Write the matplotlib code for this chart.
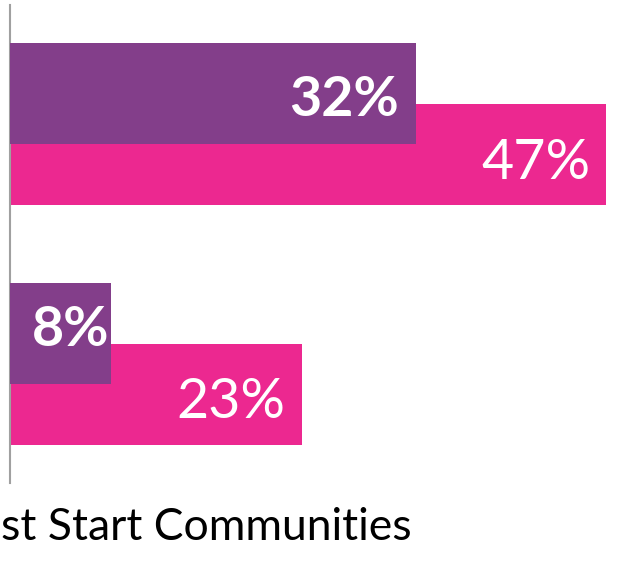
import matplotlib
matplotlib.use("Agg")
import matplotlib.pyplot as plt

# Data
purple_vals = [32, 8]
pink_vals = [47, 23]
purple_labels = ["32%", "8%"]
pink_labels = ["47%", "23%"]
category_label = "st Start Communities"  # as it shows in the cropped source

PURPLE = "#833e8a"
PINK = "#ec2890"

plt.rcParams["font.family"] = ["Lato", "DejaVu Sans"]

fig = plt.figure(figsize=(6.21, 5.61), dpi=100)
W, H = 621, 561
ax = fig.add_axes([10 / W, (H - 483) / H, (W - 10) / W, 478 / H])

bar_h = 0.42
off = 0.127
ys = range(len(purple_vals))

# pink bars first, purple drawn over them
for y, v in zip(ys, pink_vals):
    ax.barh(y + off, v, height=bar_h, color=PINK, zorder=2)
for y, v in zip(ys, purple_vals):
    ax.barh(y - off, v, height=bar_h, color=PURPLE, zorder=3)

# value labels
p_pad = [-17, -2]
p_dy = [-6, 4]
for y, v, lab, p, dy in zip(ys, purple_vals, purple_labels, p_pad, p_dy):
    ax.annotate(lab, (v, y - off), xytext=(p, dy), textcoords="offset pixels",
                ha="right", va="center", color="white", fontsize=40,
                fontweight="bold", zorder=5)
k_dy = [-9, -8]
for y, v, lab, dy in zip(ys, pink_vals, pink_labels, k_dy):
    ax.annotate(lab, (v, y + off), xytext=(-16, dy), textcoords="offset pixels",
                ha="right", va="center", color="white", fontsize=40,
                fontweight="normal", zorder=5)

ax.set_xlim(0, 47 * 611 / 596)
ax.set_ylim(1.496, -0.496)
ax.set_xticks([])
ax.set_yticks([])
for s in ["top", "right", "bottom"]:
    ax.spines[s].set_visible(False)
ax.spines["left"].set_color("#a0a0a0")
ax.spines["left"].set_linewidth(1.5)

fig.text(1 / W, 1 - 528 / H, category_label, ha="left", va="center",
         fontsize=32, color="black")

fig.savefig("out.png", dpi=100)
